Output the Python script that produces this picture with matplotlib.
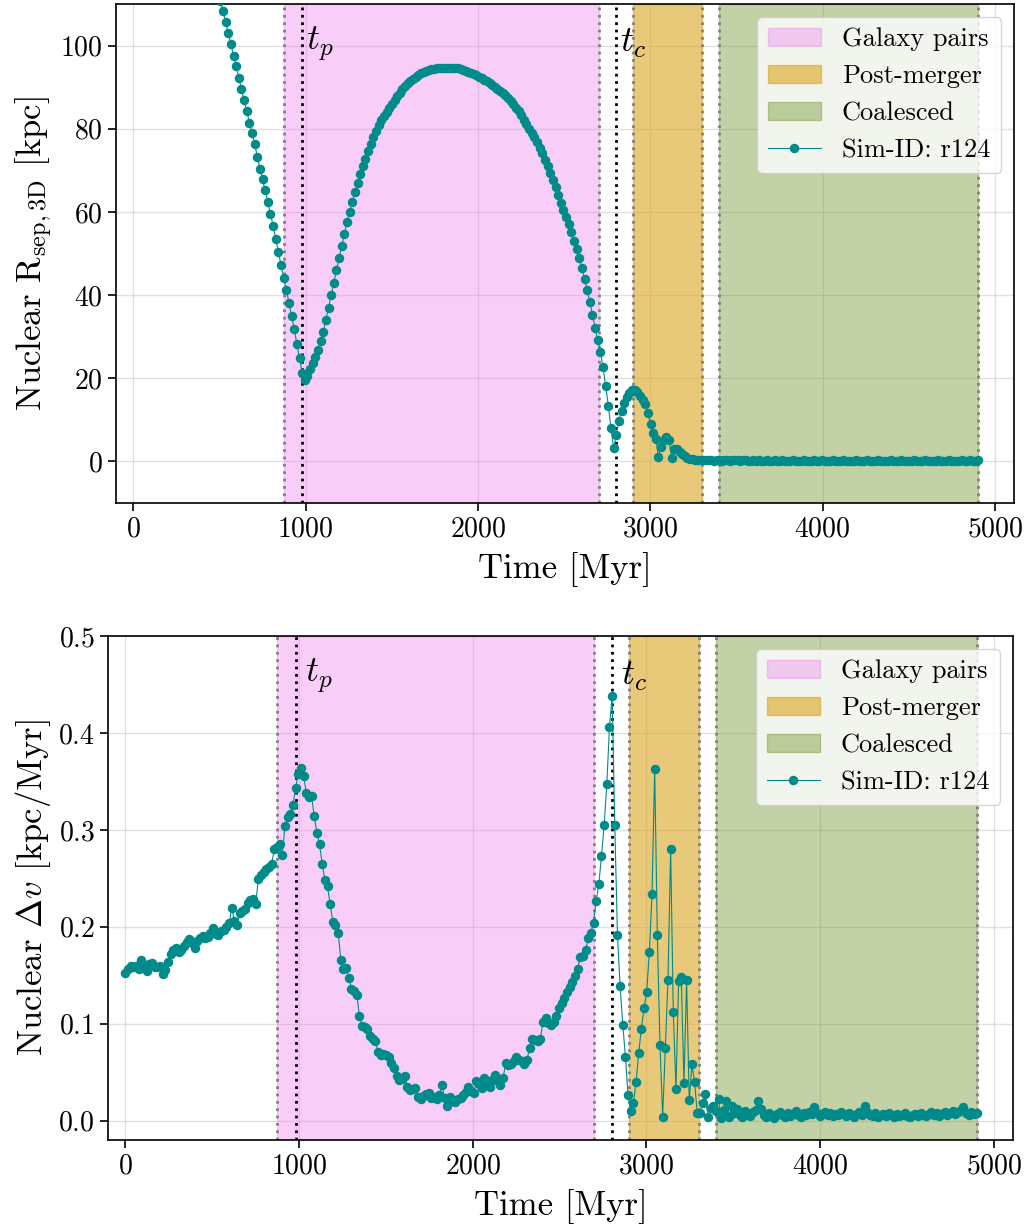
import numpy as np
import matplotlib
matplotlib.use("Agg")
import matplotlib.pyplot as plt
import matplotlib.transforms as mtransforms

plt.rcParams['font.family'] = 'cmr10'
plt.rcParams['mathtext.fontset'] = 'cm'
plt.rcParams['axes.unicode_minus'] = False
plt.rcParams['axes.formatter.use_mathtext'] = True

# ── Dati ─────────────────────────────────────────────────────────────────────
# separazione 3D dei nuclei [kpc]
rsep_infall = [
    200.0, 197.3, 194.6, 191.9, 189.2, 186.5, 183.8, 181.1, 178.4, 175.7,
    173.0, 170.3, 167.6, 164.9, 162.2, 159.5, 156.8, 154.1, 151.4, 148.7,
    146.0, 143.3, 140.6, 137.9, 135.2, 132.5, 129.8, 127.1, 124.4, 121.7,
    119.0, 116.3, 113.6,
    110.7, 108.3, 105.6, 103.0, 100.4, 97.6, 95.0, 92.3, 89.5, 86.8,
    84.3, 81.5, 78.9, 76.3, 73.3, 70.4, 67.8, 65.2, 62.3, 59.5,
    56.7, 53.4, 50.3, 47.3, 44.2, 41.2, 38.2, 34.9, 31.9, 28.2,
    24.8, 21.3, 19.5,
]
rsep_orbit = [
    20.5, 22.3, 23.6, 25.0, 26.8, 28.9, 31.2, 34.0, 37.0, 40.0,
    43.0, 46.0, 49.0, 51.8, 54.6, 57.6, 60.0, 62.3, 64.8, 67.0,
    69.2, 71.0, 72.8, 74.6, 76.3, 77.9, 79.5, 80.8, 82.0, 83.1,
    84.1, 85.1, 86.0, 87.0, 87.9, 88.7, 89.5, 90.2, 90.9, 91.5,
    92.0, 92.5, 92.9, 93.3, 93.6, 93.9, 94.1, 94.3, 94.4, 94.5,
    94.6, 94.6, 94.7, 94.7, 94.7, 94.6, 94.5, 94.5, 94.3, 94.2,
    94.0, 93.7, 93.5, 93.2, 92.9, 92.5, 92.2, 91.8, 91.4, 91.0,
    90.6, 90.1, 89.6, 89.1, 88.6, 88.1, 87.4, 86.7, 85.9, 85.1,
    84.2, 83.2, 82.2, 81.1, 80.0, 79.0, 77.9, 76.7, 75.4, 74.1,
    72.6, 71.0, 69.3, 67.6, 65.9, 64.0, 62.1, 60.5, 58.8, 57.0,
    55.2, 53.0, 51.0, 49.0, 46.5, 43.9, 41.2, 38.3, 35.2, 32.2,
    29.2, 26.4, 22.6, 18.2, 13.4, 8.0, 3.2,
]
rsep_merge = [
    6.3, 9.8, 12.2, 14.1, 15.6, 16.5, 17.2, 17.1, 16.6, 15.8,
    14.7, 13.7, 11.6, 9.0, 6.8, 5.4, 1.0, 3.5, 5.1, 5.9,
    5.1, 0.8, 3.0, 3.1, 2.2, 1.8, 1.4, 0.9, 0.6, 0.5,
    0.4, 0.4, 0.3, 0.3, 0.4, 0.3, 0.3, 0.2, 0.3, 0.3,
    0.2, 0.3, 0.3, 0.2, 0.3, 0.3,
]
rsep_settled = [
    0.3, 0.2, 0.3, 0.3, 0.2, 0.2, 0.3, 0.2, 0.3, 0.2,
    0.2, 0.3, 0.2, 0.2, 0.3, 0.2, 0.2, 0.3, 0.2, 0.2,
    0.2, 0.3, 0.2, 0.2, 0.2, 0.3, 0.2, 0.2, 0.2, 0.3,
    0.2, 0.2, 0.3, 0.2, 0.2, 0.2, 0.3, 0.2, 0.2, 0.2,
    0.3, 0.2, 0.2, 0.2, 0.2, 0.3, 0.2, 0.2, 0.2, 0.3,
    0.2, 0.2, 0.2, 0.3, 0.2, 0.2, 0.2, 0.2, 0.3, 0.2,
    0.2, 0.2, 0.3, 0.2, 0.2, 0.2, 0.2, 0.3, 0.2, 0.2,
    0.2, 0.3, 0.2, 0.2, 0.2, 0.2, 0.3, 0.2, 0.2, 0.2,
    0.3, 0.2, 0.2, 0.2, 0.2, 0.3, 0.2, 0.2, 0.3, 0.2,
    0.2, 0.3,
]

# velocita' relativa dei nuclei [kpc/Myr]
dv_approach = [
    0.152, 0.156, 0.160, 0.158, 0.160, 0.156, 0.166, 0.158, 0.154, 0.162,
    0.163, 0.158, 0.159, 0.160, 0.151, 0.155, 0.164, 0.172, 0.176, 0.178,
    0.174, 0.176, 0.180, 0.184, 0.187, 0.183, 0.178, 0.185, 0.188, 0.190,
    0.188, 0.189, 0.194, 0.199, 0.193, 0.192, 0.196, 0.197, 0.200, 0.204,
    0.219, 0.206, 0.202, 0.214, 0.216, 0.218, 0.225, 0.228, 0.229, 0.224,
    0.249, 0.253, 0.257, 0.260, 0.262, 0.265, 0.280, 0.282, 0.285, 0.274,
    0.304, 0.313, 0.316, 0.326, 0.343, 0.358,
]
dv_orbit = [
    0.364, 0.356, 0.338, 0.334, 0.335, 0.314, 0.297, 0.285, 0.265, 0.248,
    0.242, 0.223, 0.205, 0.202, 0.194, 0.166, 0.156, 0.157, 0.147, 0.136,
    0.134, 0.130, 0.108, 0.098, 0.097, 0.095, 0.087, 0.084, 0.082, 0.071,
    0.068, 0.069, 0.068, 0.066, 0.059, 0.054, 0.046, 0.042, 0.043, 0.046,
    0.035, 0.032, 0.033, 0.034, 0.024, 0.022, 0.025, 0.027, 0.029, 0.023,
    0.024, 0.022, 0.026, 0.037, 0.023, 0.015, 0.024, 0.020, 0.019, 0.022,
    0.023, 0.026, 0.030, 0.035, 0.031, 0.029, 0.041, 0.038, 0.034, 0.044,
    0.040, 0.035, 0.042, 0.047, 0.041, 0.037, 0.044, 0.059, 0.057, 0.058,
    0.062, 0.066, 0.063, 0.061, 0.058, 0.063, 0.075, 0.084, 0.083, 0.082,
    0.084, 0.102, 0.106, 0.101, 0.099, 0.102, 0.108, 0.116, 0.121, 0.126,
    0.133, 0.138, 0.143, 0.149, 0.156, 0.169, 0.170, 0.176, 0.188, 0.194,
    0.204, 0.227, 0.244, 0.273, 0.305, 0.347, 0.406,
]
dv_merge = [
    0.438, 0.305, 0.192, 0.139, 0.099, 0.066, 0.026, 0.010, 0.018, 0.040,
    0.070, 0.095, 0.116, 0.133, 0.174, 0.234, 0.363, 0.191, 0.078, 0.004,
    0.075, 0.145, 0.280, 0.112, 0.033, 0.144, 0.148, 0.039, 0.145, 0.021,
    0.058, 0.040, 0.008, 0.008, 0.018, 0.027, 0.004, 0.013, 0.015, 0.010,
    0.022, 0.003, 0.011, 0.020, 0.004, 0.015,
]
dv_settled = [
    0.008, 0.012, 0.006, 0.004, 0.010, 0.007, 0.005, 0.009, 0.011, 0.020,
    0.012, 0.006, 0.004, 0.008, 0.005, 0.003, 0.007, 0.009, 0.006, 0.004,
    0.008, 0.005, 0.007, 0.010, 0.006, 0.004, 0.008, 0.006, 0.009, 0.007,
    0.014, 0.008, 0.005, 0.007, 0.009, 0.006, 0.008, 0.005, 0.007, 0.006,
    0.009, 0.007, 0.005, 0.008, 0.006, 0.004, 0.007, 0.009, 0.006, 0.015,
    0.009, 0.006, 0.005, 0.008, 0.004, 0.006, 0.007, 0.005, 0.008, 0.006,
    0.004, 0.007, 0.005, 0.006, 0.008, 0.005, 0.004, 0.006, 0.007, 0.005,
    0.008, 0.006, 0.005, 0.007, 0.009, 0.006, 0.008, 0.005, 0.007, 0.009,
    0.006, 0.008, 0.010, 0.007, 0.009, 0.011, 0.014, 0.008, 0.006, 0.009,
    0.007, 0.008,
]

rsep = np.array(rsep_infall + rsep_orbit + rsep_merge + rsep_settled)
dv = np.array(dv_approach + dv_orbit + dv_merge + dv_settled)
assert len(rsep) == len(dv)

# snapshot regolari da 0 a 4900 Myr
time = np.linspace(0, 4900, len(rsep))

# fasi del merger [Myr]
phases = [
    ('Galaxy pairs', 875, 2700, 'violet', 0.4),
    ('Post-merger', 2900, 3300, 'goldenrod', 0.6),
    ('Coalesced', 3400, 4900, 'olivedrab', 0.4),
]
t_p = 980
t_c = 2800
sim_label = 'Sim-ID: r124'


def draw_panel(ax, y, ylim, yticks, ylabel, txt_off):
    for name, t0, t1, col, alp in phases:
        ax.axvspan(t0, t1, color=col, alpha=alp, label=name, zorder=1)
    for name, t0, t1, col, alp in phases:
        ax.axvline(t0, color='gray', ls=':', lw=2, zorder=1.5)
        ax.axvline(t1, color='gray', ls=':', lw=2, zorder=1.5)
    ax.axvline(t_p, color='black', ls=':', lw=2, zorder=1.6)
    ax.axvline(t_c, color='black', ls=':', lw=2, zorder=1.6)
    ax.plot(time, y, '-o', color='darkcyan', ms=5.8, lw=0.8,
            label=sim_label, zorder=3)

    trans = mtransforms.blended_transform_factory(ax.transData, ax.transAxes)
    ax.text(t_p + txt_off, 0.92, r'$t_p$', transform=trans, fontsize=26,
            va='center', ha='left')
    ax.text(t_c + txt_off, 0.92, r'$t_c$', transform=trans, fontsize=26,
            va='center', ha='left')

    ax.set_xlim(-100, 5110)
    ax.set_ylim(*ylim)
    ax.set_xticks([0, 1000, 2000, 3000, 4000, 5000])
    ax.set_yticks(yticks)
    ax.grid(True, color='#cccccc', alpha=0.6, lw=1, zorder=0)
    ax.set_axisbelow(True)
    ax.tick_params(labelsize=20, length=6, width=1.2)
    for sp in ax.spines.values():
        sp.set_linewidth(1.2)
    ax.set_xlabel('Time [Myr]', fontsize=25, labelpad=7)
    ax.set_ylabel(ylabel, fontsize=25)
    ax.legend(loc='upper right', fontsize=19)


fig = plt.figure(figsize=(10.3, 12.32), dpi=100)
ax1 = fig.add_axes([116 / 1030, 1 - 503 / 1232, (1014 - 116) / 1030, (503 - 4) / 1232])
ax2 = fig.add_axes([108 / 1030, 1 - 1140 / 1232, (1013 - 108) / 1030, (1140 - 636) / 1232])

draw_panel(ax1, rsep, (-10, 110), [0, 20, 40, 60, 80, 100],
           r'Nuclear R$_{\rm sep,3D}$ [kpc]', 25)
draw_panel(ax2, dv, (-0.02, 0.5), [0.0, 0.1, 0.2, 0.3, 0.4, 0.5],
           r'Nuclear $\Delta v$ [kpc/Myr]', 55)

fig.savefig('out.png', dpi=100)
